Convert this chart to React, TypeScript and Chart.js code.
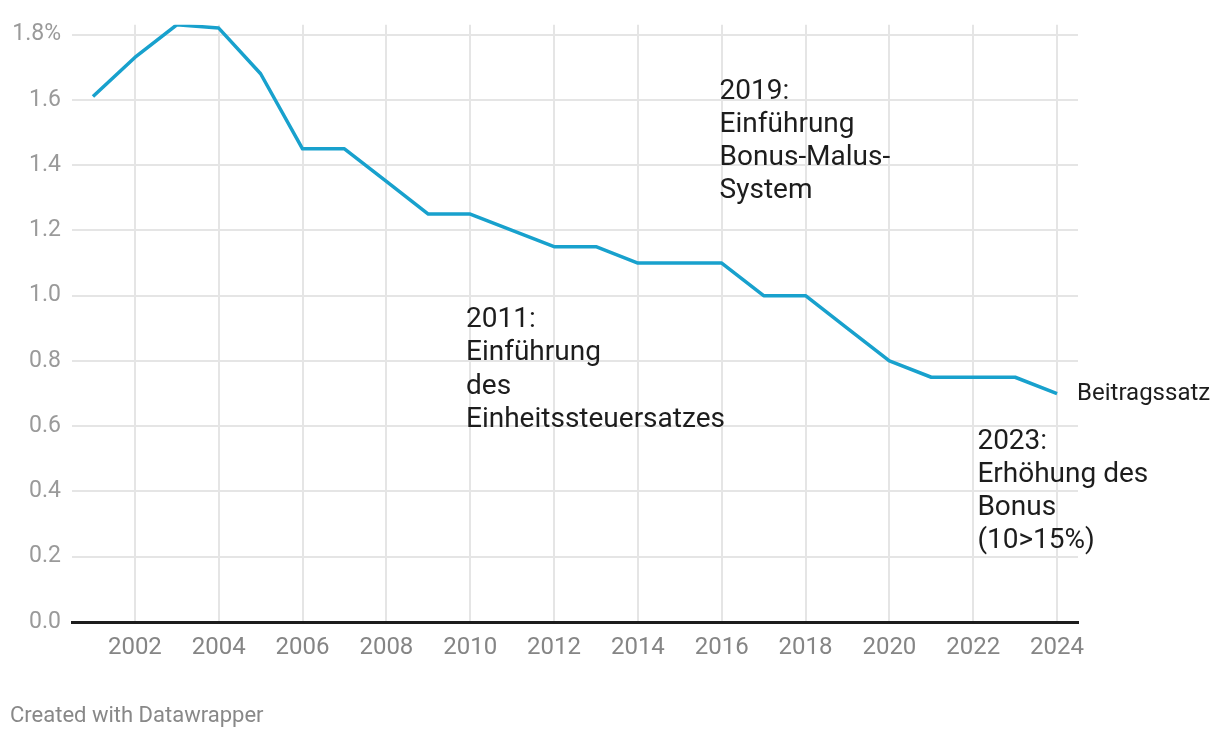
import React, { useEffect, useRef } from "react";
import { Chart, registerables } from "chart.js";

Chart.register(...registerables);

const years = [2001, 2002, 2003, 2004, 2005, 2006, 2007, 2008, 2009, 2010, 2011, 2012, 2013, 2014, 2015, 2016, 2017, 2018, 2019, 2020, 2021, 2022, 2023, 2024];
const rates = [1.61, 1.73, 1.83, 1.82, 1.68, 1.45, 1.45, 1.35, 1.25, 1.25, 1.2, 1.15, 1.15, 1.1, 1.1, 1.1, 1.0, 1.0, 0.9, 0.8, 0.75, 0.75, 0.75, 0.7];
const xTickValues = [2002, 2004, 2006, 2008, 2010, 2012, 2014, 2016, 2018, 2020, 2022, 2024];
const yTickValues = [0, 0.2, 0.4, 0.6, 0.8, 1.0, 1.2, 1.4, 1.6, 1.8];
const seriesLabel = "Beitragssatz";
const note2011 = ["2011:", "Einführung", "des", "Einheitssteuersatzes"];
const note2019 = ["2019:", "Einführung", "Bonus-Malus-", "System"];
const note2023 = ["2023:", "Erhöhung des", "Bonus", "(10>15%)"];
const credit = "Created with Datawrapper";

const FONT = "Roboto, 'Noto Sans', sans-serif";

const notes = [
  { x: 2009.9, y: 0.925, lines: note2011 },
  { x: 2015.95, y: 1.625, lines: note2019 },
  { x: 2022.1, y: 0.552, lines: note2023 },
];

const annotationPlugin = {
  id: "annotations",
  afterDraw(chart: any) {
    const { ctx, scales } = chart;
    const xs = scales.x;
    const ys = scales.y;
    ctx.save();
    ctx.fillStyle = "#1d1d1d";
    ctx.textAlign = "left";
    ctx.textBaseline = "middle";
    ctx.font = `28px ${FONT}`;
    const lh = 33.2;
    notes.forEach((n) => {
      const px = xs.getPixelForValue(n.x);
      const py = ys.getPixelForValue(n.y);
      n.lines.forEach((line, i) => ctx.fillText(line, px, py + i * lh));
    });
    const lastX = xs.getPixelForValue(years[years.length - 1]);
    const lastY = ys.getPixelForValue(rates[rates.length - 1]);
    ctx.font = `24px ${FONT}`;
    ctx.fillText(seriesLabel, lastX + 20, lastY);
    ctx.fillStyle = "#888888";
    ctx.font = `22px ${FONT}`;
    ctx.fillText(credit, 10, 716);
    ctx.restore();
  },
};

export default function App() {
  const ref = useRef<HTMLCanvasElement | null>(null);
  useEffect(() => {
    if (!ref.current) return;
    const chart = new Chart(ref.current, {
      type: "line",
      data: {
        datasets: [
          {
            label: seriesLabel,
            data: years.map((y, i) => ({ x: y, y: rates[i] })),
            borderColor: "#18a1cd",
            borderWidth: 3.5,
            pointRadius: 0,
            borderJoinStyle: "round",
            fill: false,
            tension: 0,
          },
        ],
      },
      options: {
        animation: false,
        responsive: false,
        maintainAspectRatio: false,
        devicePixelRatio: 1,
        layout: { padding: { left: 0, right: 142, top: 22, bottom: 0 } },
        plugins: { legend: { display: false }, tooltip: { enabled: false } },
        scales: {
          x: {
            type: "linear",
            min: 2000.5,
            max: 2024.5,
            afterBuildTicks: (s: any) => {
              s.ticks = xTickValues.map((v) => ({ value: v }));
            },
            afterFit: (s: any) => {
              s.height = 116;
            },
            ticks: {
              color: "#858585",
              font: { family: FONT, size: 24 },
              padding: 12,
              maxRotation: 0,
              autoSkip: false,
              callback: (v: any) => String(v),
            },
            grid: { color: "#e5e5e5", lineWidth: 2, drawTicks: false },
            border: { display: true, color: "#1d1d1d", width: 3 },
          },
          y: {
            type: "linear",
            min: 0,
            max: 1.83,
            afterBuildTicks: (s: any) => {
              s.ticks = yTickValues.map((v) => ({ value: v }));
            },
            afterFit: (s: any) => {
              s.width = 72;
            },
            ticks: {
              color: "#9a9a9a",
              font: { family: FONT, size: 23 },
              padding: 11,
              autoSkip: false,
              callback: (v: any) => Number(v).toFixed(1) + (Math.abs(v - 1.8) < 1e-6 ? "%" : ""),
            },
            grid: { color: "#e5e5e5", lineWidth: 2, drawTicks: false },
            border: { display: false },
          },
        },
      },
      plugins: [annotationPlugin],
    } as any);
    return () => chart.destroy();
  }, []);
  return (
    <div style={{ position: "fixed", left: 0, top: 0, width: 1220, height: 738, background: "#fff" }}>
      <canvas ref={ref} width={1220} height={738} style={{ width: 1220, height: 738, display: "block" }} />
    </div>
  );
}
